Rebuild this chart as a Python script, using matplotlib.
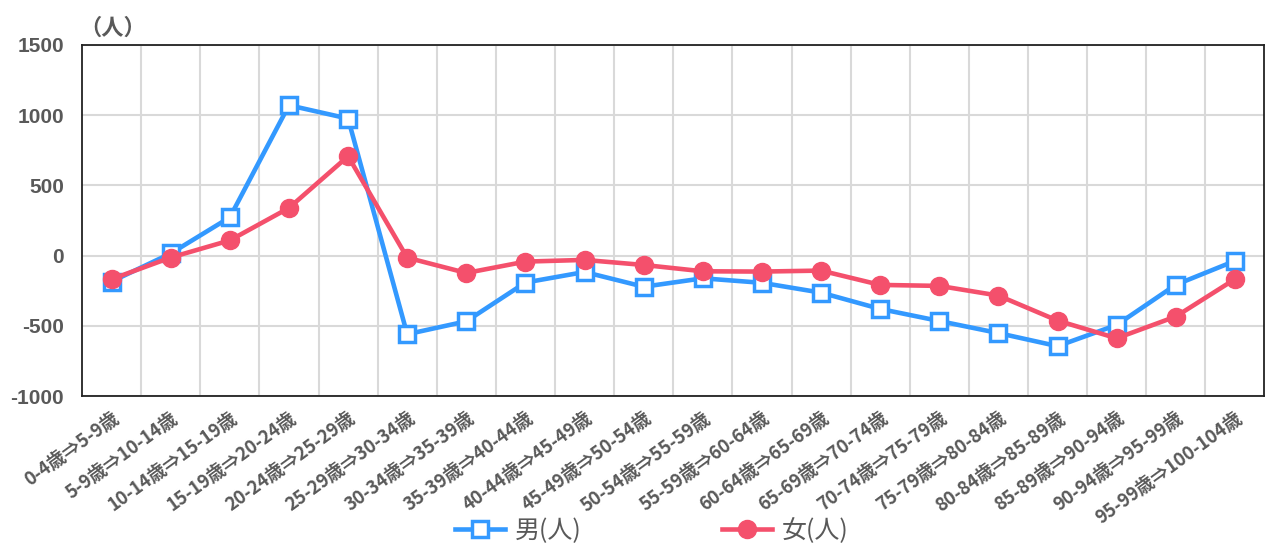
import matplotlib.pyplot as plt
import numpy as np

plt.rcParams['font.family'] = ['Noto Sans CJK JP', 'DejaVu Sans']
plt.rcParams['axes.unicode_minus'] = False

# 年齢階級の移動（5年後）
labels = ['0-4歳⇒5-9歳', '5-9歳⇒10-14歳', '10-14歳⇒15-19歳', '15-19歳⇒20-24歳',
          '20-24歳⇒25-29歳', '25-29歳⇒30-34歳', '30-34歳⇒35-39歳', '35-39歳⇒40-44歳',
          '40-44歳⇒45-49歳', '45-49歳⇒50-54歳', '50-54歳⇒55-59歳', '55-59歳⇒60-64歳',
          '60-64歳⇒65-69歳', '65-69歳⇒70-74歳', '70-74歳⇒75-79歳', '75-79歳⇒80-84歳',
          '80-84歳⇒85-89歳', '85-89歳⇒90-94歳', '90-94歳⇒95-99歳', '95-99歳⇒100-104歳']
male = [-185, 15, 272, 1070, 975, -560, -468, -192, -117, -222,
        -162, -194, -264, -380, -466, -552, -645, -494, -208, -38]
female = [-168, -14, 108, 339, 707, -15, -124, -43, -31, -67,
          -112, -114, -107, -209, -216, -285, -463, -589, -434, -168]

blue = '#3399FF'
red = '#F4506C'
gray = '#595959'

fig = plt.figure(figsize=(12.66, 5.47), dpi=100)
ax = fig.add_axes([0.0648, 0.276, 0.934, 0.642])

x = np.arange(len(labels))
ax.plot(x, male, color=blue, lw=3.3, marker='s', ms=11, mfc='white', mec=blue,
        mew=2.5, label='男(人)', zorder=3)
ax.plot(x, female, color=red, lw=3.3, marker='o', ms=13, mfc=red, mec=red,
        label='女(人)', zorder=4)

ax.set_xlim(-0.5, len(labels) - 0.5)
ax.set_ylim(-1000, 1500)
ax.set_yticks([-1000, -500, 0, 500, 1000, 1500])
ax.set_xticks(x)
ax.set_xticks(np.arange(0.5, len(labels) - 0.5), minor=True)
ax.grid(True, which='minor', axis='x', color='#D9D9D9', lw=1.5)
ax.grid(True, which='major', axis='y', color='#D9D9D9', lw=1.5)
ax.set_axisbelow(True)

ax.set_xticklabels(labels, rotation=36, ha='right', rotation_mode='anchor',
                   fontsize=13.2, fontweight='bold', color=gray)
for t in ax.get_yticklabels():
    t.set_fontsize(15)
    t.set_fontweight('bold')
    t.set_color(gray)
    t.set_family(['Liberation Sans', 'DejaVu Sans'])
ax.tick_params(axis='both', which='both', length=0)
ax.tick_params(axis='y', pad=13)
ax.tick_params(axis='x', pad=9)

for s in ax.spines.values():
    s.set_color('#222222')
    s.set_linewidth(1.3)

fig.text(0.063, 0.948, '（人）', fontsize=16, fontweight='bold', color=gray,
         ha='left', va='center')

ax.legend(loc='center', bbox_to_anchor=(0.482, -0.385), ncol=2, frameon=False,
          fontsize=18, labelcolor=gray, handlelength=2.0, columnspacing=5.6,
          handletextpad=0.4)

fig.savefig('out.png', dpi=100)
